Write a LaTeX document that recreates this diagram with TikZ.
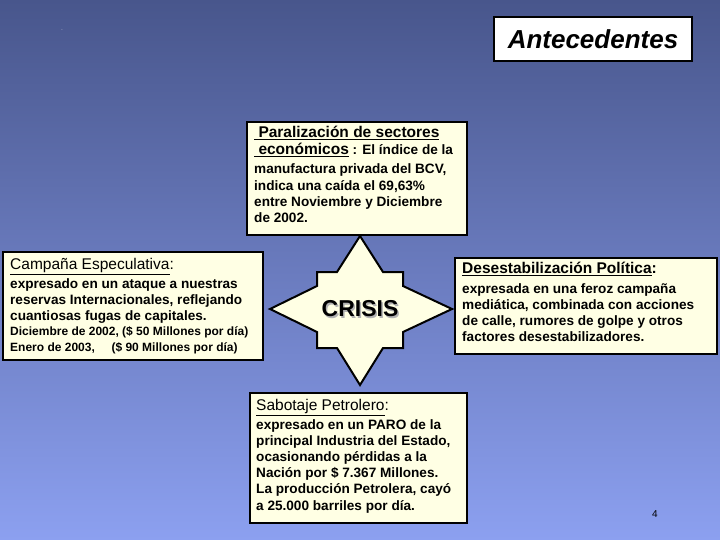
\documentclass[tikz,border=0pt]{standalone}
\usepackage{fontspec}
\setmainfont{Liberation Sans}
\begin{document}
\begin{tikzpicture}[x=1pt,y=-1pt,
  box/.style={draw=black,line width=1.5pt,fill=cream},
  txt/.style={anchor=north west,align=left,inner sep=0pt,font=\bfseries\fontsize{13.6}{16.2}\selectfont}]
\definecolor{cream}{RGB}{255,255,228}
\definecolor{bgtop}{RGB}{72,86,140}
\definecolor{bgbot}{RGB}{140,160,240}
\shade[top color=bgtop,bottom color=bgbot] (0,0) rectangle (720,540);
\useasboundingbox (0,0) rectangle (720,540);
\node[fill=white,draw=black,line width=1.5pt,minimum width=198pt,minimum height=44pt,font=\bfseries\itshape\fontsize{26}{28}\selectfont] (ante) at (593,39) {Antecedentes};
\node[font=\tiny,text=white] (dot) at (62,30) {.};
% top
\draw[box] (247,122) rectangle (467,235);
\node[txt] (t1) at (254,126) {\underline{\fontsize{15.5}{17}\selectfont\ Paralización de sectores}\\[1pt]\underline{\fontsize{15.5}{17}\selectfont\ económicos} : El índice de la\\[3pt]manufactura privada del BCV,\\indica una caída el 69,63\%\\entre Noviembre y Diciembre\\de 2002.};
% left
\draw[box] (3,252) rectangle (263,360);
\node[txt] (l1) at (10,258) {\underline{\mdseries\fontsize{15.5}{17}\selectfont Campaña Especulativa}{\mdseries\fontsize{15.5}{17}\selectfont:}};
\node[txt] (l2) at (10,278) {expresado en un ataque a nuestras\\reservas Internacionales, reflejando\\cuantiosas fugas de capitales.};
\node[txt,font=\bfseries\fontsize{12}{16}\selectfont] (l3) at (10,326) {Diciembre de 2002, (\$ 50 Millones por día)\\Enero de 2003, \ \ \ \ (\$ 90 Millones por día)};
% right
\draw[box] (455,258) rectangle (717,354);
\node[txt] (r1) at (462,262) {\underline{\fontsize{15.5}{17}\selectfont Desestabilización Política}{\fontsize{15.5}{17}\selectfont:}};
\node[txt] (r2) at (462,283) {expresada en una feroz campaña\\mediática, combinada con acciones\\de calle, rumores de golpe y otros\\factores desestabilizadores.};
% bottom
\draw[box] (250,393) rectangle (467,523);
\node[txt] (b1) at (256,399) {\underline{\mdseries\fontsize{15.5}{17}\selectfont Sabotaje Petrolero}{\mdseries\fontsize{15.5}{17}\selectfont:}};
\node[txt] (b2) at (256,419) {expresado en un PARO de la\\principal Industria del Estado,\\ocasionando pérdidas a la\\Nación por \$ 7.367 Millones.\\La producción Petrolera, cayó\\a 25.000 barriles por día.};
% crisis shape
\draw[box,line width=2pt,line join=miter] (317,272) -- (337,272) -- (360,236) -- (383,272) -- (403,272) -- (403,286) -- (452,309) -- (403,332) -- (403,348) -- (383,348) -- (360,385) -- (337,348) -- (317,348) -- (317,332) -- (270,309) -- (317,286) -- cycle;
\node[font=\bfseries\fontsize{23}{25}\selectfont,text=gray!60] (cs) at (361.5,310.5) {CRISIS};
\node[font=\bfseries\fontsize{23}{25}\selectfont] (c) at (360,309) {CRISIS};
\node[font=\fontsize{10}{11}\selectfont] (pg) at (655,514) {4};
\end{tikzpicture}
\end{document}
